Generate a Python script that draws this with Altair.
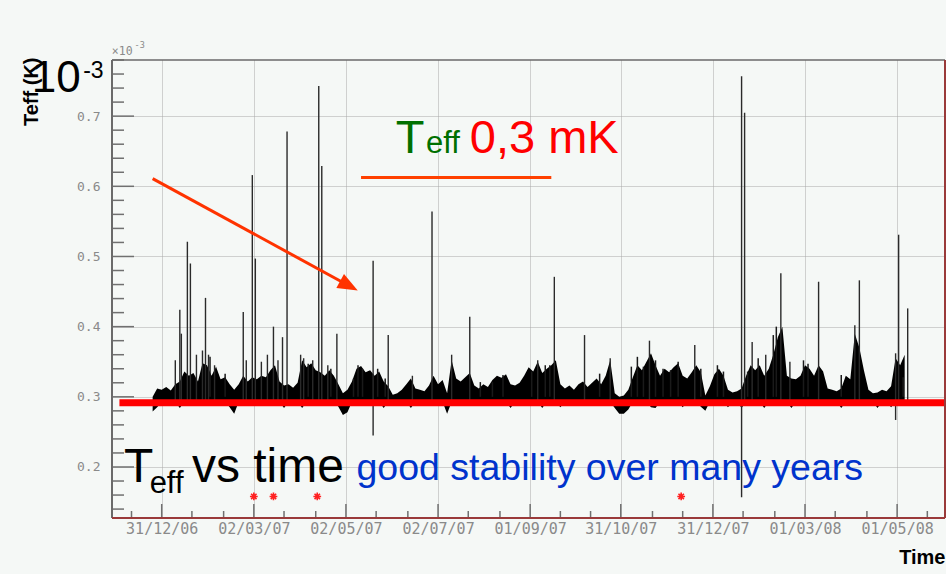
import altair as alt
import pandas as pd

ORIGIN = pd.Timestamp("2006-12-31")

def to_date(days):
    return [(ORIGIN + pd.Timedelta(days=float(d))).strftime("%Y-%m-%d") for d in days]

# ---------------- data (values in units of 1e-3 K) ----------------
# dense band: upper / lower envelope, sampled every 3 days from day -6 (relative to 31/12/06)
band_start_day = -6
band_step_days = 3
band_high = [
    0.300, 0.312, 0.310, 0.314, 0.309, 0.318, 0.322, 0.336, 0.330, 0.334,
    0.322, 0.348, 0.345, 0.330, 0.343, 0.325, 0.328, 0.318, 0.310, 0.318,
    0.330, 0.322, 0.328, 0.325, 0.330, 0.328, 0.338, 0.345, 0.322, 0.316,
    0.318, 0.313, 0.320, 0.352, 0.342, 0.348, 0.338, 0.335, 0.330, 0.338,
    0.330, 0.318, 0.305, 0.310, 0.322, 0.340, 0.344, 0.335, 0.338, 0.330,
    0.336, 0.322, 0.315, 0.303, 0.305, 0.310, 0.318, 0.326, 0.312, 0.310,
    0.308, 0.316, 0.330, 0.318, 0.324, 0.305, 0.352, 0.326, 0.322, 0.328,
    0.334, 0.316, 0.312, 0.318, 0.314, 0.324, 0.330, 0.327, 0.332, 0.318,
    0.316, 0.320, 0.330, 0.342, 0.336, 0.350, 0.334, 0.340, 0.345, 0.352,
    0.318, 0.312, 0.316, 0.310, 0.318, 0.322, 0.314, 0.320, 0.326, 0.318,
    0.330, 0.352, 0.305, 0.300, 0.302, 0.310, 0.328, 0.345, 0.338, 0.350,
    0.362, 0.345, 0.330, 0.340, 0.335, 0.342, 0.348, 0.330, 0.326, 0.335,
    0.345, 0.335, 0.302, 0.315, 0.332, 0.340, 0.330, 0.310, 0.306, 0.308,
    0.312, 0.330, 0.345, 0.338, 0.345, 0.330, 0.340, 0.360, 0.385, 0.400,
    0.330, 0.326, 0.325, 0.330, 0.345, 0.340, 0.330, 0.345, 0.336, 0.312,
    0.310, 0.308, 0.312, 0.330, 0.325, 0.390, 0.370, 0.338, 0.310, 0.305,
    0.306, 0.310, 0.308, 0.315, 0.355, 0.345, 0.360,
]
band_low = [
    0.279, 0.285, 0.293, 0.293, 0.293, 0.293, 0.284, 0.293, 0.293, 0.293,
    0.293, 0.293, 0.293, 0.293, 0.293, 0.293, 0.293, 0.285, 0.276, 0.293,
    0.293, 0.293, 0.293, 0.293, 0.293, 0.293, 0.293, 0.293, 0.293, 0.284,
    0.293, 0.293, 0.293, 0.284, 0.293, 0.293, 0.293, 0.293, 0.293, 0.293,
    0.293, 0.286, 0.274, 0.278, 0.293, 0.293, 0.293, 0.293, 0.293, 0.293,
    0.293, 0.284, 0.293, 0.293, 0.293, 0.293, 0.293, 0.284, 0.293, 0.293,
    0.293, 0.293, 0.293, 0.293, 0.293, 0.276, 0.293, 0.293, 0.293, 0.293,
    0.293, 0.293, 0.293, 0.293, 0.293, 0.293, 0.293, 0.293, 0.293, 0.284,
    0.293, 0.293, 0.293, 0.293, 0.293, 0.293, 0.284, 0.293, 0.293, 0.293,
    0.285, 0.293, 0.293, 0.293, 0.293, 0.293, 0.293, 0.293, 0.293, 0.293,
    0.293, 0.293, 0.284, 0.276, 0.276, 0.282, 0.293, 0.293, 0.293, 0.293,
    0.285, 0.284, 0.293, 0.293, 0.293, 0.293, 0.293, 0.285, 0.293, 0.293,
    0.293, 0.286, 0.280, 0.293, 0.293, 0.293, 0.293, 0.285, 0.293, 0.293,
    0.284, 0.293, 0.293, 0.293, 0.293, 0.284, 0.293, 0.293, 0.293, 0.293,
    0.293, 0.284, 0.293, 0.293, 0.293, 0.293, 0.293, 0.293, 0.293, 0.293,
    0.293, 0.293, 0.284, 0.293, 0.293, 0.293, 0.293, 0.293, 0.293, 0.293,
    0.284, 0.293, 0.293, 0.285, 0.293, 0.293, 0.293,
]

# isolated tall spikes: day (rel. to 31/12/06), top, bottom
spike_days = [9, 12, 13, 17, 19, 23, 27, 29, 31, 35, 54, 56, 60, 62, 66, 70, 74, 77, 80, 83,
              92, 94, 100, 104, 106, 110, 116, 140, 150, 166, 179, 192, 204, 249, 260, 280,
              297, 323, 353, 384, 386, 391, 400, 410, 416, 435, 459, 462, 486, 488, 494]
spike_top = [0.352, 0.424, 0.390, 0.521, 0.490, 0.360, 0.366, 0.441, 0.360, 0.345, 0.421, 0.352,
             0.616, 0.497, 0.350, 0.360, 0.400, 0.352, 0.385, 0.678, 0.360, 0.355, 0.352, 0.743,
             0.629, 0.345, 0.390, 0.494, 0.388, 0.330, 0.564, 0.360, 0.414, 0.352, 0.471, 0.388,
             0.355, 0.380, 0.374, 0.757, 0.705, 0.378, 0.360, 0.476, 0.350, 0.464, 0.402, 0.466,
             0.362, 0.531, 0.426]
spike_bottom = [0.295] * 27 + [0.245] + [0.295] * 11 + [0.157] + [0.295] * 8 + [0.267] + [0.295] * 2

# small spikes riding on the band
small_days = [32, 42, 97, 112, 127, 130, 133, 143, 148, 211, 219, 226, 245, 254, 257, 290,
              311, 315, 319, 327, 332, 337, 342, 357, 368, 372, 388, 395, 405, 407, 425, 428,
              450, 491]
small_top = [0.357, 0.333, 0.347, 0.340, 0.326, 0.345, 0.340, 0.340, 0.326, 0.321, 0.321, 0.331,
             0.336, 0.345, 0.345, 0.333, 0.343, 0.357, 0.343, 0.352, 0.340, 0.338, 0.350, 0.340,
             0.345, 0.336, 0.336, 0.355, 0.388, 0.400, 0.352, 0.347, 0.331, 0.328]

# markers and reference level
star_dates = ["2007-03-02", "2007-03-15", "2007-04-13", "2007-12-10"]
star_value = 0.158
ref_level = 0.2915
ref_start, ref_end = "2006-12-03", "2008-06-02"
scale_line = {"start": "2007-05-12", "end": "2007-09-15", "v": 0.6125}
arrow_dates = ["2006-12-25", "2007-05-04"]
arrow_values = [0.611, 0.4583]

# annotations
ann_date = ["2006-10-06", "2006-11-09", "2007-06-04", "2007-06-24", "2007-07-23",
            "2006-12-06", "2006-12-23", "2007-01-20", "2007-05-09"]
ann_value = [0.7337, 0.755, 0.648, 0.648, 0.648, 0.178, 0.1636, 0.178, 0.182]
ann_text = ["10", "-3", "T", "eff", "0,3 mK", "T", "eff", "vs time",
            "good stability over many years"]
ann_color = ["black", "black", "#007000", "#007000", "#ff0000", "black", "black", "black", "#0033cc"]
ann_size = [44, 23, 47, 31, 47, 48, 31, 48, 37.5]

exp_date = ["2006-11-28", "2006-12-13"]
exp_value = [0.7878, 0.7964]
exp_text = ["\u00d710", "-3"]
exp_size = [11.5, 8.5]

# axes
major_dates = ["2006-12-31", "2007-03-02", "2007-05-02", "2007-07-02", "2007-09-01",
               "2007-10-31", "2007-12-31", "2008-03-01", "2008-05-01"]
minor_days = [-20, 20, 41, 81, 102, 142, 163, 203, 224, 264, 284, 325, 345, 385, 406, 446, 467, 507]
y_major = [0.2, 0.3, 0.4, 0.5, 0.6, 0.7]
y_minor = [0.14, 0.16, 0.18, 0.22, 0.24, 0.26, 0.28, 0.32, 0.34, 0.36, 0.38, 0.42, 0.44, 0.46,
           0.48, 0.52, 0.54, 0.56, 0.58, 0.62, 0.64, 0.66, 0.68, 0.72, 0.74, 0.76, 0.78]

# ---------------- frames ----------------
band_days = list(range(band_start_day, band_start_day + band_step_days * len(band_high), band_step_days))
band_df = pd.DataFrame({"date": to_date(band_days), "hi": band_high, "lo": band_low})
spike_df = pd.DataFrame({"date": to_date(spike_days), "top": spike_top, "bot": spike_bottom})
small_df = pd.DataFrame({"date": to_date(small_days), "top": small_top,
                         "bot": [0.300] * len(small_days)})
star_df = pd.DataFrame({"date": star_dates, "v": [star_value] * len(star_dates)})
ref_df = pd.DataFrame({"start": [ref_start], "end": [ref_end], "v": [ref_level]})
scale_df = pd.DataFrame([scale_line])
arrow_df = pd.DataFrame({"date": arrow_dates, "v": arrow_values, "o": [0, 1]})
head_df = arrow_df.iloc[[1]]
ann_df = pd.DataFrame({"date": ann_date, "v": ann_value, "t": ann_text, "c": ann_color, "s": ann_size})
exp_df = pd.DataFrame({"date": exp_date, "v": exp_value, "t": exp_text, "s": exp_size})
xmaj_df = pd.DataFrame({"date": major_dates})
xmin_df = pd.DataFrame({"date": to_date(minor_days)})
ymaj_df = pd.DataFrame({"v": y_major})
ymin_df = pd.DataFrame({"v": y_minor})
one = pd.DataFrame({"a": [0]})

W, H = 833, 458


def dt(s, h=0):
    y, m, d = (int(p) for p in s.split("-"))
    return alt.DateTime(year=y, month=m, date=d, hours=h, utc=True)


xs = alt.Scale(type="utc", domain=[dt("2006-11-28", 2), dt("2008-06-01", 17)])
ys = alt.Scale(domain=[0.1273, 0.78], nice=False, zero=False)

GRID = "#a8a8a8"
xax = alt.Axis(values=[dt(d) for d in major_dates], format="%d/%m/%y",
               labelFont="DejaVu Sans Mono", labelFontSize=15, labelColor="#8a8a8a",
               labelPadding=3, labelOverlap=False, labelFlush=False,
               ticks=False, tickSize=0, domain=False,
               grid=True, gridDash=[1, 1], gridColor=GRID, gridWidth=1,
               title="Time", titleFont="Liberation Sans", titleFontSize=20,
               titleFontWeight="bold", titleColor="black",
               titleX=W, titleY=45, titleAlign="right", titleBaseline="alphabetic")
yax = alt.Axis(values=y_major, format=".1f",
               labelFont="DejaVu Sans Mono", labelFontSize=13, labelColor="#8a8a8a",
               labelPadding=12, ticks=False, tickSize=0, domain=False,
               grid=True, gridDash=[1, 1], gridColor=GRID, gridWidth=1,
               title="Teff (K)", titleFont="Liberation Sans", titleFontSize=20,
               titleFontWeight="bold", titleColor="black", titleAngle=270,
               titleX=-75, titleY=-3, titleAlign="right", titleBaseline="alphabetic")


def X(f):
    return alt.X(f, type="temporal", scale=xs, axis=xax)


def Y(f):
    return alt.Y(f, type="quantitative", scale=ys, axis=yax)


band = alt.Chart(band_df).mark_area(color="black", opacity=1).encode(
    x=X("date"), y=Y("hi"), y2="lo")
small = alt.Chart(small_df).mark_rule(color="#1a1a1a", strokeWidth=1.5).encode(
    x=X("date"), y=Y("top"), y2="bot")
spikes = alt.Chart(spike_df).mark_rule(color="#2a2a2a", strokeWidth=1.4).encode(
    x=X("date"), y=Y("top"), y2="bot")
ref = alt.Chart(ref_df).mark_rule(color="#ff0000", strokeWidth=7).encode(
    x=X("start"), x2="end", y=Y("v"))
scl = alt.Chart(scale_df).mark_rule(color="#ff4000", strokeWidth=3).encode(
    x=X("start"), x2="end", y=Y("v"))
arrow = alt.Chart(arrow_df).mark_line(color="#ff3300", strokeWidth=3).encode(
    x=X("date"), y=Y("v"), order="o:Q")
head = alt.Chart(head_df).mark_point(
    shape="M1,0L-1,-0.8L-1,0.8Z", filled=True, color="#ff3300", opacity=1,
    size=400, angle=28.5).encode(x=X("date"), y=Y("v"))
stars = alt.Chart(star_df).mark_point(
    shape="M-1,0L1,0M0,-1L0,1M-0.7,-0.7L0.7,0.7M-0.7,0.7L0.7,-0.7",
    filled=False, color="#ff2020", strokeWidth=1.6, size=60, opacity=1).encode(
    x=X("date"), y=Y("v"))
texts = alt.Chart(ann_df).mark_text(font="Liberation Sans", align="left", baseline="alphabetic").encode(
    x=X("date"), y=Y("v"), text="t:N",
    color=alt.Color("c:N", scale=None), size=alt.Size("s:Q", scale=None))
exps = alt.Chart(exp_df).mark_text(font="DejaVu Sans Mono", align="left", baseline="alphabetic",
                                   color="#8a8a8a").encode(
    x=X("date"), y=Y("v"), text="t:N", size=alt.Size("s:Q", scale=None))

TICK = "#707070"
xmaj = alt.Chart(xmaj_df).mark_rule(color=TICK, strokeWidth=1.5).encode(
    x=X("date"), y=alt.value(H), y2=alt.value(H - 14))
xmin = alt.Chart(xmin_df).mark_rule(color=TICK, strokeWidth=1.5).encode(
    x=X("date"), y=alt.value(H), y2=alt.value(H - 7))
ymaj = alt.Chart(ymaj_df).mark_rule(color=TICK, strokeWidth=1.5).encode(
    y=Y("v"), x=alt.value(0), x2=alt.value(22))
ymin = alt.Chart(ymin_df).mark_rule(color=TICK, strokeWidth=1.5).encode(
    y=Y("v"), x=alt.value(0), x2=alt.value(12))

FRAME_G = "#6a6a6a"
FRAME_R = "#9a3a3a"
f_top = alt.Chart(one).mark_rule(color=FRAME_G, strokeWidth=1.5).encode(
    x=alt.value(0), x2=alt.value(W), y=alt.value(0))
f_left = alt.Chart(one).mark_rule(color=FRAME_G, strokeWidth=2).encode(
    x=alt.value(0), y=alt.value(0), y2=alt.value(H))
f_bot = alt.Chart(one).mark_rule(color=FRAME_R, strokeWidth=2).encode(
    x=alt.value(0), x2=alt.value(W), y=alt.value(H))
f_right = alt.Chart(one).mark_rule(color=FRAME_R, strokeWidth=2).encode(
    x=alt.value(W), y=alt.value(0), y2=alt.value(H))

chart = alt.layer(
    band, small, spikes, ref, scl, arrow, head, stars, texts, exps,
    xmaj, xmin, ymaj, ymin, f_top, f_left, f_bot, f_right
).properties(
    width=W, height=H,
    padding={"left": 112, "top": 60, "right": 1, "bottom": 56},
    autosize=alt.AutoSizeParams(type="none"),
).configure(background="#f5f8f6").configure_view(stroke=None)

chart.save("out.html", embed_options={"renderer": "svg", "actions": False})
